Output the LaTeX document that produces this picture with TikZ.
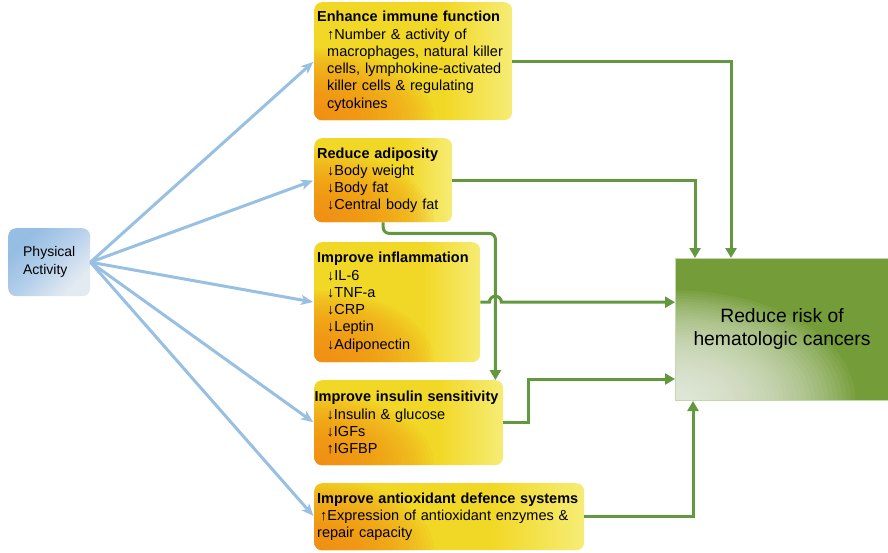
\documentclass[tikz,border=0pt]{standalone}
\usepackage{fontspec}
\setmainfont{Liberation Sans}
\usetikzlibrary{arrows.meta, calc}
\definecolor{ActivityBlue}{RGB}{150,189,226}
\definecolor{ActivityMid}{RGB}{182,208,235}
\definecolor{ActivityPale}{RGB}{226,234,242}
\definecolor{ArrowBlue}{RGB}{152,192,226}
\definecolor{EffectOrange}{RGB}{240,138,20}
\definecolor{EffectYellow}{RGB}{242,216,38}
\definecolor{EffectPale}{RGB}{246,236,118}
\definecolor{RiskGreen}{RGB}{116,156,56}
\definecolor{RiskPale}{RGB}{246,248,243}
\definecolor{RiskEdge}{RGB}{196,214,172}
\definecolor{LinkGreen}{RGB}{98,152,62}

\pgfdeclarehorizontalshading{effectshade}{100bp}{color(0bp)=(EffectYellow); color(58bp)=(EffectYellow); color(75bp)=(EffectPale); color(100bp)=(EffectPale)}
\pgfdeclareverticalshading{activityshade}{100bp}{color(0bp)=(ActivityPale); color(28bp)=(ActivityPale); color(50bp)=(ActivityMid); color(72bp)=(ActivityBlue); color(100bp)=(ActivityBlue)}

\begin{document}
\begin{tikzpicture}[x=1pt, y=1pt,
    every node/.style={font=\fontsize{14.5}{17.3}\selectfont},
    effectbox/.style={anchor=north west, rounded corners=8pt, shade, shading=effectshade,
                      align=left, inner sep=4pt, inner xsep=3pt,
                      path picture={
                        % orange glow in the lower left corner
                        \foreach \k in {1,...,30} {
                          \fill[EffectOrange, opacity=0.065] (path picture bounding box.south west)
                            ellipse[x radius={(31-\k)*4}, y radius={(31-\k)*2.4}];
                        }}},
    feed/.style={ArrowBlue, line width=3pt, shorten >=1pt,
                 -{Stealth[length=12pt, width=10pt, inset=3pt]}},
    link/.style={LinkGreen, line width=3pt, -{Triangle[length=10pt, width=11pt]}}]
    \useasboundingbox (0,0) rectangle (888,-552);

    % Source
    \node[anchor=north west, rounded corners=8pt, shade, shading=activityshade, shading angle=45,
          minimum width=82pt, minimum height=68pt, align=left, inner sep=0pt,
          font=\fontsize{14}{18}\selectfont] (pa) at (8,-228) {Physical\\Activity};

    % Effects of exercise
    \node[effectbox, text width=192pt, minimum height=118pt] (immune) at (314,-2)
        {\textbf{Enhance immune function}\\
         \hspace*{10pt}↑Number \& activity of\\
         \hspace*{10pt}macrophages, natural killer\\
         \hspace*{10pt}cells, lymphokine-activated\\
         \hspace*{10pt}killer cells \& regulating\\
         \hspace*{10pt}cytokines};
    \node[effectbox, text width=132pt, minimum height=84pt] (adipos) at (314,-138)
        {\textbf{Reduce adiposity}\\
         \hspace*{10pt}↓Body weight\\
         \hspace*{10pt}↓Body fat\\
         \hspace*{10pt}↓Central body fat};
    \node[effectbox, text width=160pt, minimum height=120pt] (inflam) at (314,-242)
        {\textbf{Improve inflammation}\\
         \hspace*{10pt}↓IL-6\\
         \hspace*{10pt}↓TNF-a\\
         \hspace*{10pt}↓CRP\\
         \hspace*{10pt}↓Leptin\\
         \hspace*{10pt}↓Adiponectin};
    \node[effectbox, text width=188pt, inner xsep=0.5pt, minimum height=85pt] (insulin) at (314,-380)
        {\textbf{Improve insulin sensitivity}\\
         \hspace*{12pt}↓Insulin \& glucose\\
         \hspace*{12pt}↓IGFs\\
         \hspace*{12pt}↑IGFBP};
    \node[effectbox, text width=264pt, minimum height=67pt] (antiox) at (314,-483)
        {\textbf{Improve antioxidant defence systems}\\
         \hspace*{3pt}↑Expression of antioxidant enzymes \&\\
         repair capacity};

    % Outcome
    \node[anchor=north west, fill=RiskGreen, draw=RiskEdge, line width=1pt,
          path picture={
            % pale glow in the lower left corner
            \foreach \k in {1,...,40} {
              \fill[RiskPale, opacity=0.055] (path picture bounding box.south west)
                ellipse[x radius={(41-\k)*4.5}, y radius={(41-\k)*2.75}];
            }},
          minimum width=213pt, minimum height=142pt, align=center,
          font=\fontsize{19.3}{23}\selectfont] (risk) at (675,-258)
        {Reduce risk of\\hematologic cancers};

    % Blue arrows from physical activity
    \foreach \e in {immune, adipos, inflam, insulin, antiox} {
        \draw[feed] (pa.east) -- (\e.west);
    }

    % Green links to outcome
    \draw[link] (immune.east) -| ([xshift=56pt]risk.north west);
    \draw[link] (adipos.east) -| ([xshift=20pt]risk.north west);
    \draw[link, rounded corners=6pt] (adipos.south) -- ++(0,-11)
        -| ([xshift=-8pt]insulin.north east);
    \draw[link] (inflam.east) -- ++(9,0) arc[start angle=180, end angle=0, radius=6]
        -- (inflam.east -| risk.west);
    \draw[link] (insulin.east) -- ++(25,0) |- ([yshift=22pt]risk.south west);
    \draw[link] (antiox.east) -| ([xshift=18pt]risk.south west);
\end{tikzpicture}
\end{document}
